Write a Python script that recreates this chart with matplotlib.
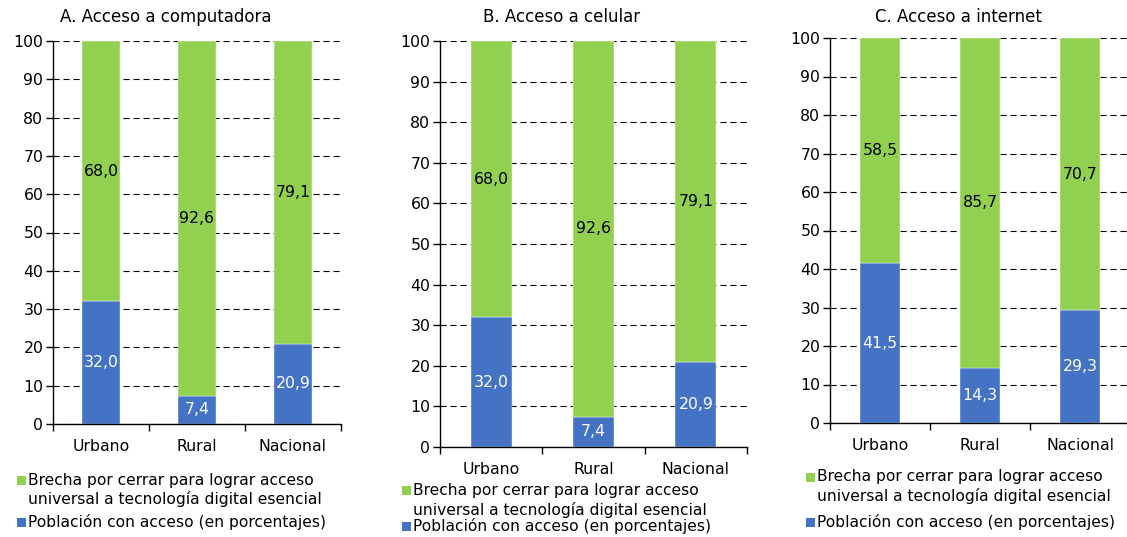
import numpy as np
import matplotlib
matplotlib.use("Agg")
import matplotlib.pyplot as plt
from matplotlib.patches import Rectangle

# ==========================================================
# DATA
# ==========================================================

categories = ["Urbano", "Rural", "Nacional"]

titles = [
    "A. Acceso a computadora",
    "B. Acceso a celular",
    "C. Acceso a internet"
]

acceso_computadora = [32.0, 7.4, 20.9]
brecha_computadora = [68.0, 92.6, 79.1]

acceso_celular = [32.0, 7.4, 20.9]
brecha_celular = [68.0, 92.6, 79.1]

acceso_internet = [41.5, 14.3, 29.3]
brecha_internet = [58.5, 85.7, 70.7]

legend_brecha = "Brecha por cerrar para lograr acceso\nuniversal a tecnología digital esencial"
legend_acceso = "Población con acceso (en porcentajes)"

y_ticks = list(range(0, 101, 10))

# ==========================================================
# STYLE
# ==========================================================

GREEN = "#92D050"
BLUE = "#4472C4"
FS = 11.3
FS_LEG = 11.2

plt.rcParams["font.family"] = ["DejaVu Sans"]
plt.rcParams["font.size"] = FS

W, H = 1127, 537
fig = plt.figure(figsize=(W / 100, H / 100), dpi=100)


def px_box(left, right, top, bottom):
    return [left / W, (H - bottom) / H, (right - left) / W, (bottom - top) / H]


# panel layout in pixels: axes box, title centre, legend anchor
panels = [
    dict(box=(53, 341, 41, 424), title_x=166, title_y=17,
         leg_x=17, leg_y1=480, leg_y2=499, leg_y3=522, pad=11),
    dict(box=(440, 747, 41, 447), title_x=562, title_y=17,
         leg_x=402, leg_y1=490, leg_y2=510, leg_y3=526, pad=11),
    dict(box=(830, 1130, 38, 423), title_x=958, title_y=17,
         leg_x=806, leg_y1=477, leg_y2=496, leg_y3=522, pad=11),
]

series = [
    (acceso_computadora, brecha_computadora),
    (acceso_celular, brecha_celular),
    (acceso_internet, brecha_internet),
]

x = np.arange(len(categories))

for p, title, (acceso, brecha) in zip(panels, titles, series):

    ax = fig.add_axes(px_box(*p["box"]))

    ax.bar(x, acceso, width=0.4, color=BLUE, edgecolor="white", linewidth=0.3, zorder=2)
    ax.bar(x, brecha, width=0.4, bottom=acceso, color=GREEN, edgecolor="white", linewidth=0.3, zorder=2)

    for xi, a, b in zip(x, acceso, brecha):
        ax.text(xi, a / 2, f"{a:.1f}".replace(".", ","), ha="center", va="center",
                color="white", fontsize=FS, zorder=3)
        ax.text(xi, a + b / 2, f"{b:.1f}".replace(".", ","), ha="center", va="center",
                color="black", fontsize=FS, zorder=3)

    ax.set_xlim(-0.5, 2.5)
    ax.set_ylim(0, 100)
    ax.set_yticks(y_ticks)
    ax.set_xticks(x)
    ax.set_xticklabels(categories)
    ax.set_xticks([-0.5, 0.5, 1.5, 2.5], minor=True)

    ax.tick_params(axis="x", which="major", length=0, pad=p["pad"], labelsize=FS)
    ax.tick_params(axis="x", which="minor", length=5, width=1, direction="out")
    ax.tick_params(axis="y", length=5, width=1, pad=2, labelsize=FS)

    ax.yaxis.grid(True, color="black", linewidth=0.8, linestyle=(0, (5.5, 3.5)))
    ax.set_axisbelow(True)

    for side in ["top", "right"]:
        ax.spines[side].set_visible(False)
    for side in ["left", "bottom"]:
        ax.spines[side].set_linewidth(1)
        ax.spines[side].set_zorder(4)

    fig.text(p["title_x"] / W, 1 - p["title_y"] / H, title,
             ha="center", va="center", fontsize=12)

    # legend swatches and texts
    sq = 9
    lx = p["leg_x"]
    for yc, color in [(p["leg_y1"], GREEN), (p["leg_y3"], BLUE)]:
        fig.patches.append(Rectangle(
            (lx / W, (H - yc - sq / 2) / H), sq / W, sq / H,
            transform=fig.transFigure, facecolor=color, edgecolor="none"
        ))

    tx = (lx + sq + 2) / W
    lines = legend_brecha.split("\n")
    fig.text(tx, 1 - p["leg_y1"] / H, lines[0], ha="left", va="center", fontsize=FS_LEG)
    fig.text(tx, 1 - p["leg_y2"] / H, lines[1], ha="left", va="center", fontsize=FS_LEG)
    fig.text(tx, 1 - p["leg_y3"] / H, legend_acceso, ha="left", va="center", fontsize=FS_LEG)

fig.savefig("out.png", dpi=100)
